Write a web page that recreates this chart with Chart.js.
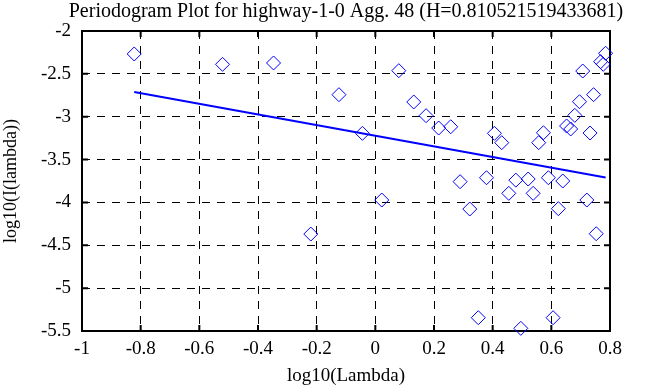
<!DOCTYPE html>
<html>
<head>
<meta charset="utf-8">
<script src="https://cdn.jsdelivr.net/npm/chart.js@4/dist/chart.umd.min.js"></script>
<style>
  html, body { margin: 0; padding: 0; background: #fff; }
</style>
</head>
<body>
<canvas id="chart" width="663" height="387"></canvas>
<script>
// periodogram points
let logLambda = [
  -0.822, -0.521, -0.347, -0.220, -0.124, -0.044, 0.022, 0.080, 0.131, 0.173,
  0.216, 0.257, 0.289, 0.322, 0.351, 0.379, 0.406, 0.431, 0.455, 0.479,
  0.496, 0.521, 0.538, 0.557, 0.573, 0.590, 0.606, 0.624, 0.639, 0.652,
  0.666, 0.680, 0.696, 0.707, 0.721, 0.732, 0.744, 0.753, 0.768, 0.777,
  0.785
];
let logI = [
  -2.268, -2.389, -2.373, -4.369, -2.743, -3.194, -3.972, -2.463, -2.828, -2.988,
  -3.132, -3.117, -3.758, -4.077, -5.345, -3.712, -3.194, -3.303, -3.894, -3.740,
  -5.469, -3.727, -3.894, -3.303, -3.187, -3.712, -5.345, -4.073, -3.750, -3.108,
  -3.143, -2.984, -2.825, -2.467, -3.972, -3.190, -2.743, -4.365, -2.358, -2.389,
  -2.260
];

// fitted line end points
let fitX = [-0.822, 0.785];
let fitY = [-2.712, -3.710];

let xTicks = [-1, -0.8, -0.6, -0.4, -0.2, 0, 0.2, 0.4, 0.6, 0.8];
let yTicks = [-2, -2.5, -3, -3.5, -4, -4.5, -5, -5.5];

let titleText = "Periodogram Plot for highway-1-0 Agg. 48 (H=0.810521519433681)";
let serif = "'Liberation Serif', 'DejaVu Serif', serif";

function pairs(xs, ys) {
  return xs.map((x, i) => ({ x: x, y: ys[i] }));
}

// box round the plot, short solid ticks pointing inward, and the title
// centred over the plot area (not over the whole canvas)
let frame = {
  id: "frame",
  beforeDatasetsDraw(chart) {
    let ctx = chart.ctx, a = chart.chartArea;
    let sx = chart.scales.x, sy = chart.scales.y;
    ctx.save();
    ctx.setLineDash([]);
    ctx.strokeStyle = "#000";
    ctx.lineWidth = 2;
    ctx.beginPath();
    xTicks.forEach(v => {
      let px = sx.getPixelForValue(v);
      ctx.moveTo(px, a.bottom); ctx.lineTo(px, a.bottom - 6);
      ctx.moveTo(px, a.top); ctx.lineTo(px, a.top + 6);
    });
    yTicks.forEach(v => {
      let py = sy.getPixelForValue(v);
      ctx.moveTo(a.left, py); ctx.lineTo(a.left + 6, py);
      ctx.moveTo(a.right, py); ctx.lineTo(a.right - 6, py);
    });
    ctx.stroke();
    ctx.strokeRect(a.left, a.top, a.right - a.left, a.bottom - a.top);

    ctx.fillStyle = "#000";
    ctx.font = "20px " + serif;
    ctx.textAlign = "center";
    ctx.textBaseline = "middle";
    ctx.fillText(titleText, (a.left + a.right) / 2, 12);
    ctx.restore();
  }
};

function setTicks(values) {
  return function(scale) {
    scale.ticks = values.map(v => ({ value: v }));
  };
}

new Chart(document.getElementById("chart"), {
  type: "scatter",
  data: {
    datasets: [
      {
        data: pairs(logLambda, logI),
        pointStyle: "rectRot",
        pointRadius: 7,
        pointHoverRadius: 7,
        borderColor: "#0000ff",
        backgroundColor: "rgba(0,0,0,0)",
        borderWidth: 1,
        clip: false
      },
      {
        type: "line",
        data: pairs(fitX, fitY),
        borderColor: "#0000ff",
        borderWidth: 2,
        pointRadius: 0,
        fill: false,
        clip: false
      }
    ]
  },
  options: {
    responsive: false,
    animation: false,
    events: [],
    layout: { padding: { left: 0, right: 53, top: 31, bottom: 0 } },
    plugins: {
      legend: { display: false },
      tooltip: { enabled: false },
      title: { display: false }
    },
    scales: {
      x: {
        type: "linear",
        min: -1,
        max: 0.8,
        afterBuildTicks: setTicks(xTicks),
        afterFit: s => { s.height = 56; },
        grid: {
          color: "#000",
          lineWidth: 1,
          drawTicks: false
        },
        border: { display: false, dash: [8, 7] },
        ticks: {
          color: "#000",
          padding: 7,
          maxRotation: 0,
          autoSkip: false,
          font: { family: serif, size: 19 },
          callback: v => String(v)
        },
        title: {
          display: true,
          text: "log10(Lambda)",
          color: "#000",
          font: { family: serif, size: 19 },
          padding: 0
        }
      },
      y: {
        type: "linear",
        min: -5.5,
        max: -2,
        afterBuildTicks: setTicks(yTicks),
        afterFit: s => { s.width = 82; },
        grid: {
          color: "#000",
          lineWidth: 1,
          drawTicks: false
        },
        border: { display: false, dash: [8, 7] },
        ticks: {
          color: "#000",
          padding: 11,
          autoSkip: false,
          font: { family: serif, size: 19 },
          callback: v => String(v)
        },
        title: {
          display: true,
          text: "log10(I(lambda))",
          color: "#000",
          font: { family: serif, size: 18 },
          padding: 0
        }
      }
    }
  },
  plugins: [frame]
});
</script>
</body>
</html>
